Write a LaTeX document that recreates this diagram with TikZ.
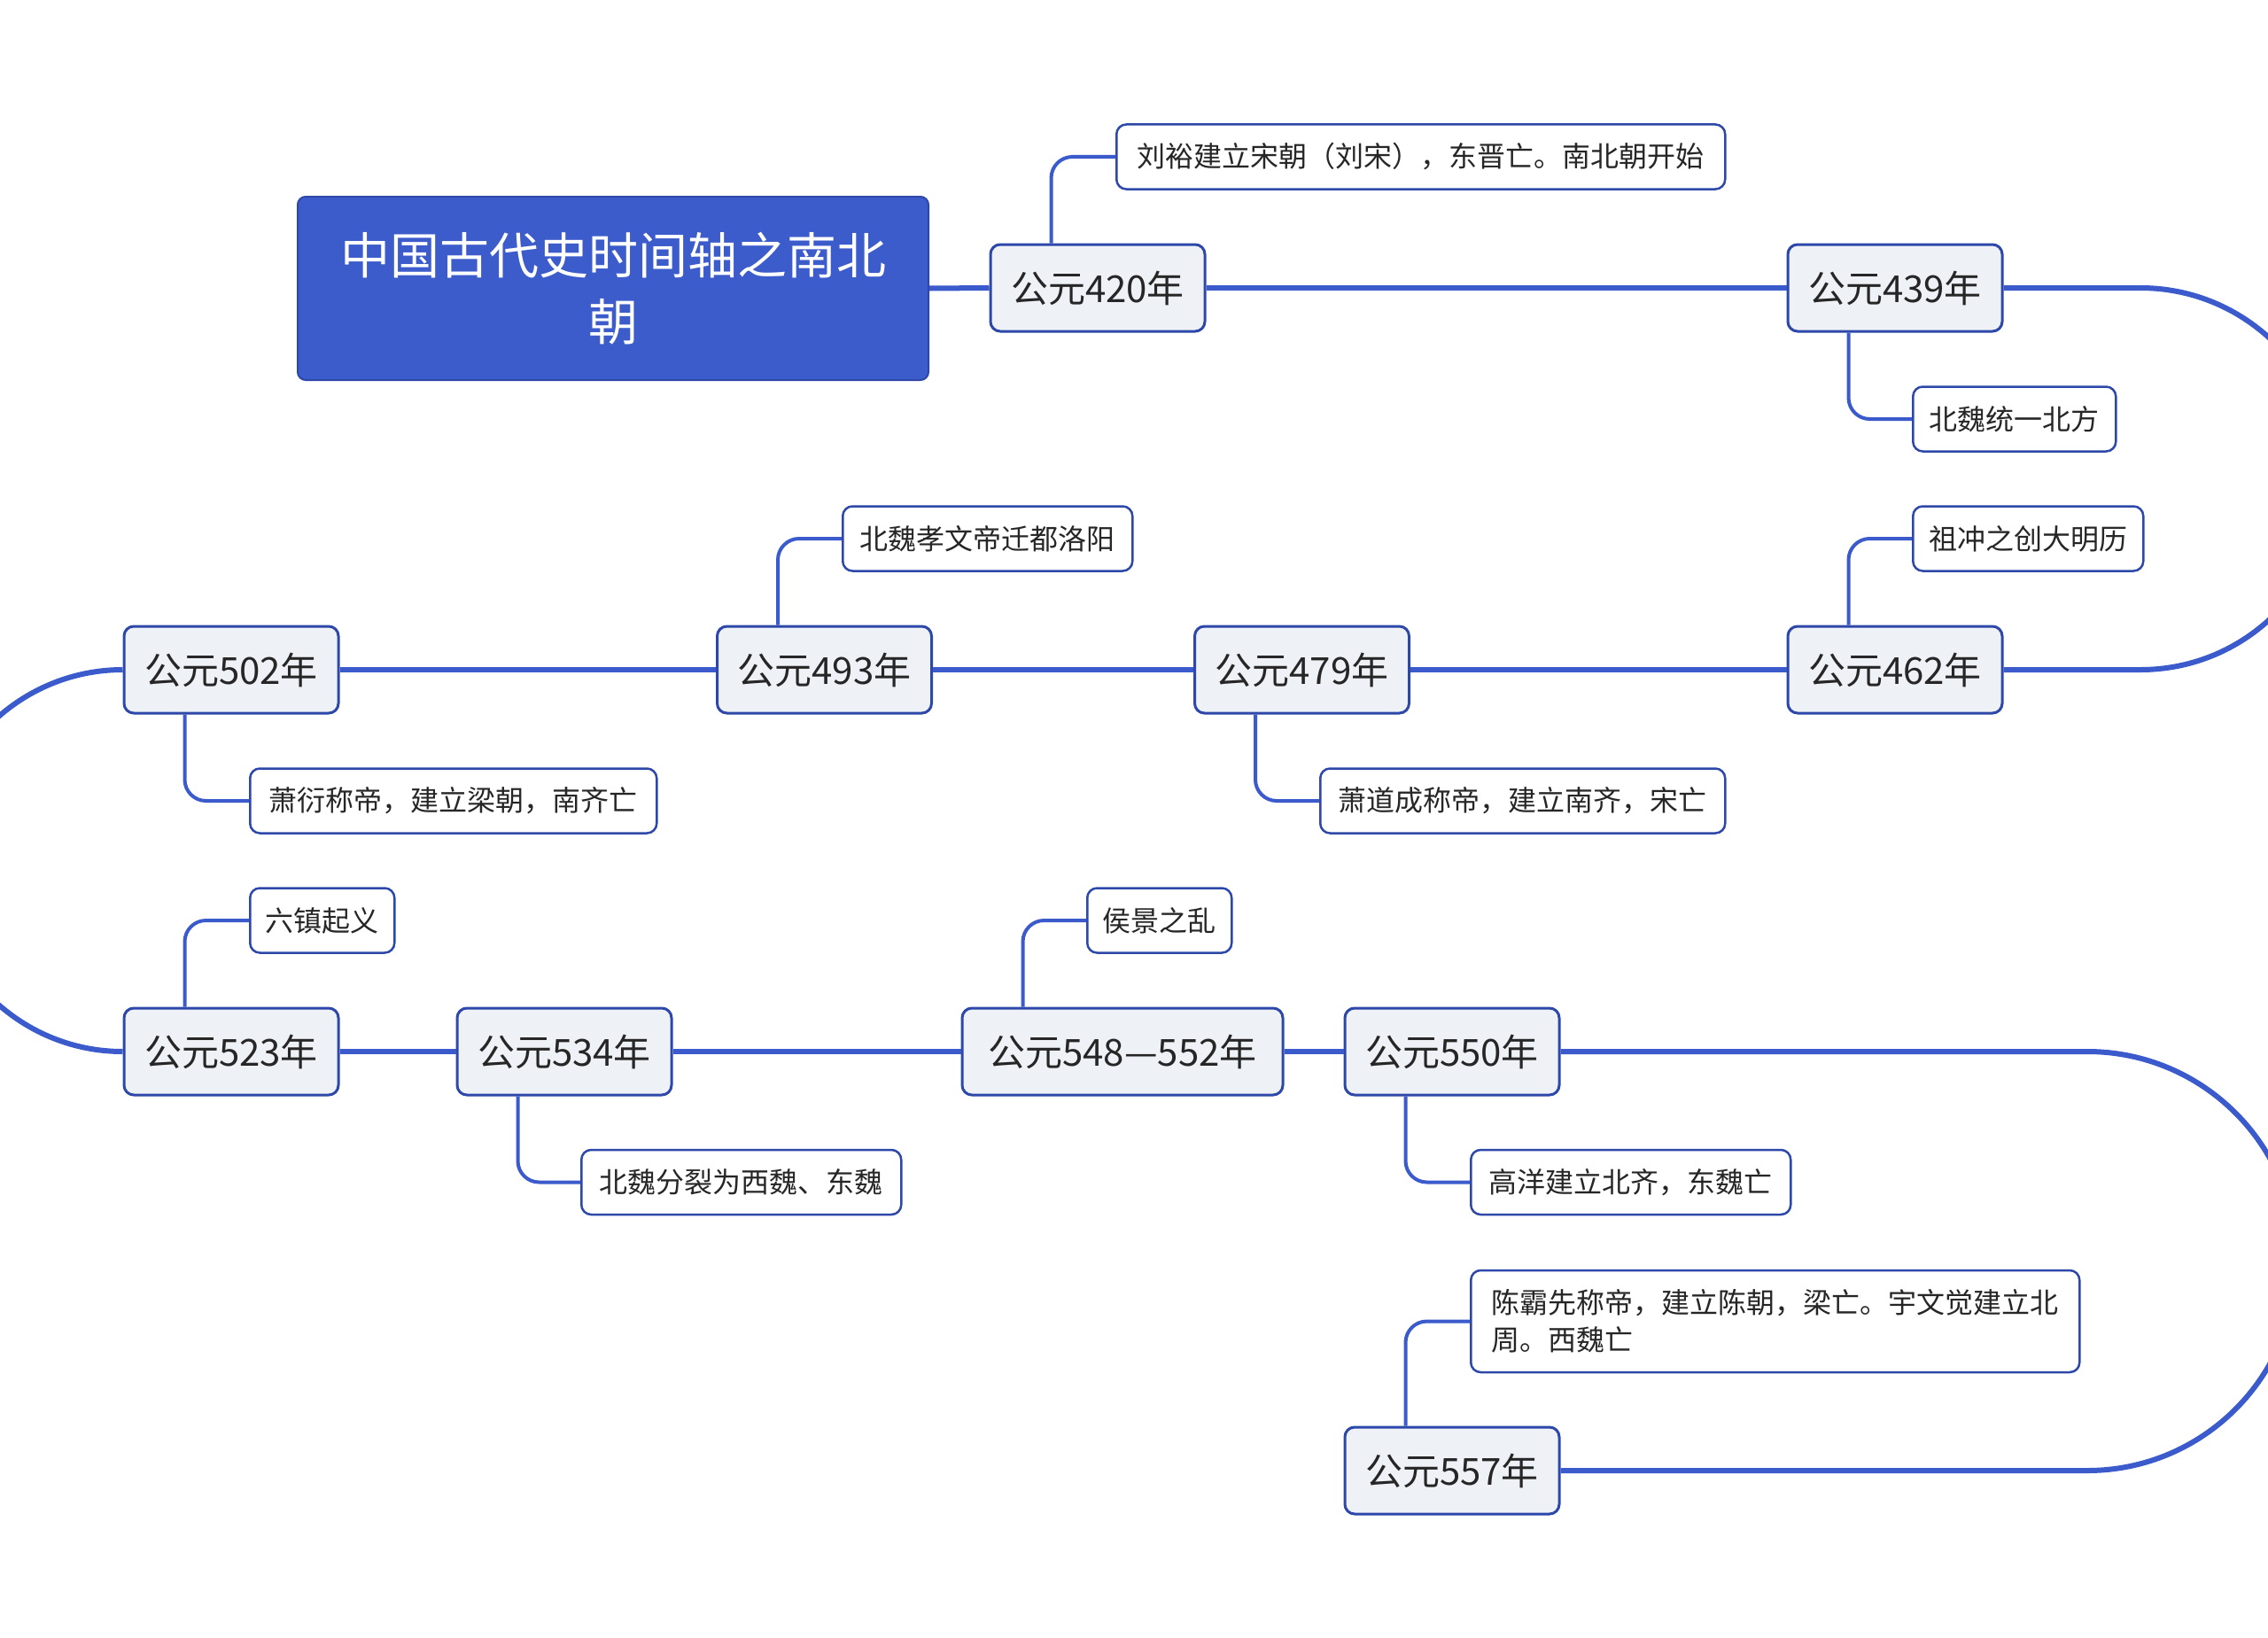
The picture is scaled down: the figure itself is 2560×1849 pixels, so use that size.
\documentclass[tikz,border=0pt]{standalone}
\usepackage{fontspec}
\newfontfamily\cjk{Noto Sans CJK SC}
\definecolor{lineblue}{HTML}{3B5BCC}
\definecolor{rootblue}{HTML}{3D5CCB}
\definecolor{bord}{HTML}{2D48A8}
\definecolor{yfill}{HTML}{EEF1F6}
\definecolor{txt}{HTML}{262626}
\tikzset{
 rootbox/.style={draw=bord, line width=2pt, fill=rootblue, rounded corners=9pt, minimum width=712pt, minimum height=207pt, inner sep=0pt, align=center, text=white, font=\cjk\fontsize{56}{75}\selectfont},
 yearbox/.style={draw=bord, line width=3pt, fill=yfill, rounded corners=11pt, minimum height=98pt, minimum width=242pt, inner sep=0pt, font=\cjk\fontsize{42}{50}\selectfont, text=txt},
 leafbox/.style={draw=bord, line width=2.5pt, fill=white, rounded corners=11pt, minimum height=73pt, inner sep=0pt, anchor=west, font=\cjk\fontsize{32}{42}\selectfont, text=txt},
 mainline/.style={draw=lineblue, line width=6pt, line join=round},
 branchline/.style={draw=lineblue, line width=4pt, rounded corners=24pt},
}
\begin{document}
\begin{tikzpicture}[x=1pt,y=-1pt]
\useasboundingbox (0,0) rectangle (2560,1849);
\clip (0,0) rectangle (2560,1849);
\fill[white] (0,0) rectangle (2560,1849);
% nodes
\node[rootbox] (root) at (692,325.5) {中国古代史时间轴之南北\\朝};
\node[yearbox] (y420) at (1239,325) {公元420年};
\node[yearbox] (y439) at (2139,325) {公元439年};
\node[yearbox] (y462) at (2139,756) {公元462年};
\node[yearbox] (y479) at (1469.5,756) {公元479年};
\node[yearbox] (y493) at (930.5,756) {公元493年};
\node[yearbox] (y502) at (261,756) {公元502年};
\node[yearbox] (y523) at (261,1187) {公元523年};
\node[yearbox] (y534) at (637,1187) {公元534年};
\node[yearbox, minimum width=362pt] (y548) at (1267,1187) {公元548—552年};
\node[yearbox] (y550) at (1639,1187) {公元550年};
\node[yearbox] (y557) at (1639,1660) {公元557年};
\node[leafbox, minimum width=687pt] (c420) at (1259,177) {刘裕建立宋朝（刘宋），东晋亡。南北朝开始};
\node[leafbox, minimum width=229pt] (c439) at (2158,473) {北魏统一北方};
\node[leafbox, minimum width=260pt] (c462) at (2158,608) {祖冲之创大明历};
\node[leafbox, minimum width=457pt] (c479) at (1489,904) {萧道成称帝，建立南齐，宋亡};
\node[leafbox, minimum width=327pt] (c493) at (950,608) {北魏孝文帝迁都洛阳};
\node[leafbox, minimum width=459pt] (c502) at (281,904) {萧衍称帝，建立梁朝，南齐亡};
\node[leafbox, minimum width=163pt] (c523) at (281,1039) {六镇起义};
\node[leafbox, minimum width=361pt] (c534) at (655,1334.5) {北魏分裂为西魏、东魏};
\node[leafbox, minimum width=163pt] (c548) at (1226,1039) {侯景之乱};
\node[leafbox, minimum width=361pt] (c550) at (1659,1334.5) {高洋建立北齐，东魏亡};
\node[leafbox, minimum width=687pt, minimum height=115pt, align=left] (c557) at (1659,1491.5) {陈霸先称帝，建立陈朝，梁亡。宇文觉建立北\\周。西魏亡};
% main timeline
\draw[mainline] (root.east) -- (y420.west);
\draw[mainline] (y420.east) -- (y439.west);
\draw[mainline] (y439.east) -- (2416,325) .. controls (2535,325) and (2631.5,421.5) .. (2631.5,540.5) .. controls (2631.5,659.5) and (2535,756) .. (2416,756) -- (y462.east);
\draw[mainline] (y462.west) -- (y479.east);
\draw[mainline] (y479.west) -- (y493.east);
\draw[mainline] (y493.west) -- (y502.east);
\draw[mainline] (y502.west) .. controls (21,756) and (-75.5,852.5) .. (-75.5,971.5) .. controls (-75.5,1090.5) and (21,1187) .. (y523.west);
\draw[mainline] (y523.east) -- (y534.west);
\draw[mainline] (y534.east) -- (y548.west);
\draw[mainline] (y548.east) -- (y550.west);
\draw[mainline] (y550.east) -- (2356,1187) .. controls (2486.6,1187) and (2592.5,1292.9) .. (2592.5,1423.5) .. controls (2592.5,1554.1) and (2486.6,1660) .. (2356,1660) -- (y557.east);
% branches
\draw[branchline] ([xshift=70pt]y420.north west) |- (c420.west);
\draw[branchline] ([xshift=70pt]y439.south west) |- (c439.west);
\draw[branchline] ([xshift=70pt]y462.north west) |- (c462.west);
\draw[branchline] ([xshift=70pt]y479.south west) |- (c479.west);
\draw[branchline] ([xshift=70pt]y493.north west) |- (c493.west);
\draw[branchline] ([xshift=70pt]y502.south west) |- (c502.west);
\draw[branchline] ([xshift=70pt]y523.north west) |- (c523.west);
\draw[branchline] ([xshift=70pt]y534.south west) |- (c534.west);
\draw[branchline] ([xshift=70pt]y548.north west) |- (c548.west);
\draw[branchline] ([xshift=70pt]y550.south west) |- (c550.west);
\draw[branchline] ([xshift=70pt]y557.north west) |- (c557.west);
\end{tikzpicture}
\end{document}
